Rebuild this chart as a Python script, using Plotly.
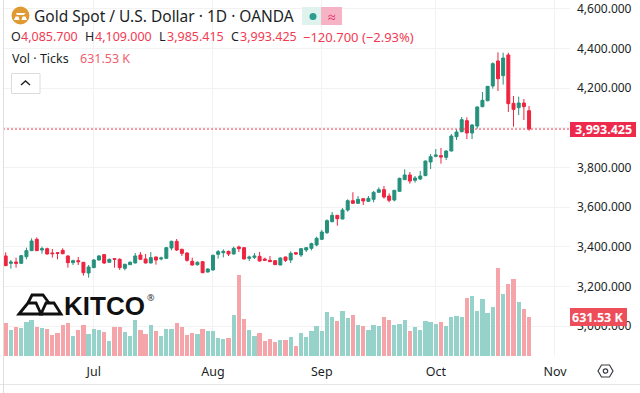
import plotly.graph_objects as go

# Session number 1 = first trading day shown (early June); tick months from the time axis.
opens = [3353.9,3316.9,3323.6,3316.9,3350.5,3380.7,3437.8,3384.0,3390.8,3369.0,3370.7,3382.4,3353.9,3320.3,3330.4,3322.0,3268.2,3295.1,3333.7,3360.6,
3322.0,3340.4,3337.1,3291.8,3310.2,3318.6,3358.9,3338.8,3318.6,3348.8,3338.8,3342.1,3394.2,3427.7,3387.4,3369.0,3327.0,3310.2,3325.3,3273.3,3283.4,3362.3,
3370.6,3377.3,3363.9,3399.2,3395.8,3342.1,3347.1,3352.2,3338.7,3332.0,3330.3,3308.5,3348.8,3333.7,3370.6,3358.9,3384.1,3392.5,3409.3,3437.8,3471.4,
3526.6,3558.8,3540.2,3585.5,3632.4,3619.1,3642.6,3629.2,3639.2,3674.5,3687.9,3656.0,3635.9,3679.5,3738.3,3761.8,3735.0,3741.7,3758.4,
3827.3,3855.8,3859.2,3850.8,3882.7,3954.9,3980.1,4035.5,3973.4,4008.6,4106.0,4136.2,4210.1,4336.0,4262.1,4366.2,4122.8,4101.0,4124.5,4085.7]
highs = [3372.3,3333.7,3345.5,3358.9,3395.8,3442.9,3447.9,3400.9,3395.8,3389.1,3372.3,3392.5,3357.2,3335.4,3348.8,3323.6,3308.5,3337.1,3358.9,3364.0,
3340.4,3342.0,3342.1,3315.2,3327.0,3369.0,3374.0,3364.0,3374.0,3350.5,3350.5,3399.2,3431.1,3439.5,3390.8,3372.3,3345.5,3327.0,3328.7,3291.8,3360.6,3384.1,
3387.4,3380.7,3400.9,3405.9,3397.5,3355.5,3369.0,3374.0,3345.4,3353.8,3333.7,3347.1,3350.5,3377.3,3374.0,3392.5,3397.5,3421.0,3451.2,3484.8,3538.5,
3575.5,3560.3,3595.6,3639.4,3674.7,3656.0,3644.3,3656.0,3681.2,3699.7,3706.4,3669.5,3686.2,3748.4,3790.3,3776.9,3756.8,3782.0,3834.0,
3867.6,3892.8,3897.8,3886.0,3968.3,3991.8,4053.9,4052.3,4018.7,4107.7,4179.9,4210.1,4329.3,4379.7,4378.0,4378.0,4159.7,4156.4,4144.6,4109.0]
lows = [3303.0,3290.1,3295.1,3315.2,3337.1,3379.0,3379.0,3365.6,3360.6,3345.5,3337.1,3362.3,3295.1,3308.5,3308.5,3254.8,3244.7,3293.4,3330.4,3313.6,
3320.3,3295.1,3283.4,3281.7,3308.5,3316.9,3333.7,3316.9,3316.9,3310.2,3332.0,3338.8,3382.4,3379.0,3353.9,3325.3,3305.2,3305.2,3266.6,3269.9,3280.0,3340.4,
3347.1,3353.8,3362.2,3374.0,3337.0,3328.7,3338.7,3325.3,3328.7,3323.6,3308.5,3307.0,3323.6,3318.6,3358.9,3348.8,3374.0,3382.4,3402.5,3434.4,3464.6,
3523.6,3506.5,3538.7,3577.0,3615.8,3617.4,3610.7,3627.5,3624.1,3672.8,3642.6,3624.1,3629.2,3677.9,3736.6,3718.1,3723.2,3736.6,3756.8,
3792.0,3850.8,3818.9,3837.4,3881.0,3938.1,3976.7,3943.1,3943.1,3995.2,4102.6,4132.9,4196.7,4184.9,4216.8,4079.1,4005.3,4064.0,4038.8,3985.415]
closes = [3305.2,3323.6,3316.9,3355.5,3380.7,3429.4,3380.7,3390.8,3364.0,3365.6,3367.3,3365.6,3320.3,3330.4,3325.3,3269.9,3298.5,3333.7,3353.9,3318.6,
3337.1,3337.1,3295.1,3311.9,3322.0,3353.9,3337.1,3318.6,3345.5,3333.7,3343.8,3395.8,3427.7,3384.0,3367.3,3332.0,3308.5,3322.0,3269.9,3288.4,3357.2,3375.7,
3377.3,3363.9,3392.5,3390.8,3338.7,3348.8,3353.8,3328.7,3332.0,3325.3,3310.2,3343.8,3332.0,3367.3,3363.9,3390.8,3395.8,3416.0,3442.8,3474.7,3531.8,
3558.8,3541.7,3585.5,3632.4,3619.3,3639.2,3630.8,3644.3,3674.5,3687.9,3651.0,3634.2,3684.6,3745.0,3761.8,3731.6,3746.7,3756.8,3832.3,
3854.0,3862.6,3852.5,3882.7,3958.2,3978.4,4040.5,3973.4,4013.7,4104.3,4137.9,4208.4,4322.6,4247.0,4351.1,4121.1,4092.6,4124.5,4106.0,3993.425]
volumes_k = [530,412,460,455,546,578,460,455,428,337,369,498,530,321,412,498,353,428,412,385,235,460,460,385,321,578,412,353,498,396,321,439,439,530,460,337,369,353,428,396,
396,289,273,294,658,1300,589,412,321,369,235,278,219,262,262,305,161,369,305,396,482,396,706,621,562,722,605,663,498,482,412,498,482,621,578,498,514,573,396,466,412,
562,546,514,546,482,631,648,621,926,958,722,915,690,781,1413,990,1151,1236,867,749,631.53]
sessions = list(range(1, len(closes) + 1))

price_ticks = [3000, 3200, 3400, 3600, 3800, 4000, 4200, 4400, 4600]
# 4,000.000 sits under the last-price tag in the reference, so its label stays empty.
price_labels = ["3,000.000", "3,200.000", "3,400.000", "3,600.000", "3,800.000", "", "4,200.000", "4,400.000", "4,600.000"]
month_ticks = [18, 41, 62, 84, 107]
month_labels = ["Jul", "Aug", "Sep", "Oct", "Nov"]

UP, DOWN = "#25917c", "#ee2440"
UP_VOL, DOWN_VOL = "#95d3ca", "#f5a5a9"
INK = "#1c1f26"
RED_TXT = "#f23a52"
FONT = "Noto Sans"

W, H = 640, 393
L, R, T, B = 3, 570, 0, 356
def fx(px): return (px - L) / (R - L)
def fy(py): return 1 - (py - T) / (B - T)
def path(points, close=True):
    s = "M " + " L ".join(f"{fx(x):.5f},{fy(y):.5f}" for x, y in points)
    return s + (" Z" if close else "")

def shape_path(points, line=None, width=1, fill=None, close=True):
    return dict(type="path", xref="paper", yref="paper", path=path(points, close),
                line=dict(color=line or "rgba(0,0,0,0)", width=width if line else 0),
                fillcolor=fill or "rgba(0,0,0,0)", layer="above")
def rect(x0, y0, x1, y1, fill=None, line=None, width=1):
    return dict(type="rect", xref="paper", yref="paper", x0=fx(x0), x1=fx(x1), y0=fy(y0), y1=fy(y1),
                fillcolor=fill or "rgba(0,0,0,0)", line=dict(color=line or "rgba(0,0,0,0)", width=width if line else 0), layer="above")
def circle(cx, cy, r, fill=None, line=None, width=1):
    return dict(type="circle", xref="paper", yref="paper", x0=fx(cx-r), x1=fx(cx+r), y0=fy(cy-r), y1=fy(cy+r),
                fillcolor=fill or "rgba(0,0,0,0)", line=dict(color=line or "rgba(0,0,0,0)", width=width if line else 0), layer="above")
def text(x, y, s, color=INK, size=13, anchor="left", family=FONT, weight=None):
    t = f"<b>{s}</b>" if weight else s
    return dict(xref="paper", yref="paper", x=fx(x), y=fy(y), text=t, showarrow=False, xanchor=anchor, yanchor="middle",
                font=dict(color=color, size=size, family=family), borderpad=0, borderwidth=0)

fig = go.Figure()
fig.add_trace(go.Bar(x=sessions, y=volumes_k, yaxis="y2", width=0.82,
                     marker=dict(color=[UP_VOL if c >= o else DOWN_VOL for o, c in zip(opens, closes)], line=dict(width=0)),
                     hoverinfo="skip", showlegend=False))
fig.add_trace(go.Candlestick(x=sessions, open=opens, high=highs, low=lows, close=closes, whiskerwidth=0,
                             increasing=dict(line=dict(color=UP, width=1), fillcolor=UP),
                             decreasing=dict(line=dict(color=DOWN, width=1), fillcolor=DOWN),
                             hoverinfo="skip", showlegend=False))

shapes = [
    dict(type="line", xref="paper", yref="y", x0=0, x1=1, y0=closes[-1], y1=closes[-1], line=dict(color="#f23a52", width=1, dash="2px,2px"), layer="above"),
    rect(0, 384, 640, 385, fill="#e6e6e6"),
    rect(3, 0, 4, 393, fill="#dedede"),
    # symbol icon
    circle(20.5, 15.5, 9, fill="#e09a33"),
    shape_path([(17, 15), (24, 15), (25.5, 13), (16, 13)], fill="#ffffff"),
    shape_path([(14, 20), (19.5, 20), (18.5, 16.5), (15.5, 16.5)], fill="#ffffff"),
    shape_path([(21.5, 20), (27, 20), (25.5, 16.5), (22.5, 16.5)], fill="#ffffff"),
    # status pills
    rect(302, 7, 322, 25, fill="#e0f2ee"),
    circle(313, 16.5, 3.5, fill="#2a9d8f"),
    rect(321, 7, 342, 25, fill="#f7b3c6"),
    # collapse button
    dict(type="rect", xref="paper", yref="paper", x0=fx(11.5), x1=fx(40), y0=fy(73.5), y1=fy(93.5), fillcolor="#ffffff",
         line=dict(color="#dcdcdc", width=1), layer="above"),
    shape_path([(21, 85), (25.5, 81), (30, 85)], line="#222222", width=1.4, close=False),
    # KITCO mark
    shape_path([(19, 314), (28, 303), (36, 303), (41, 314)], line="#111111", width=2.8),
    shape_path([(41, 314), (46, 303), (54, 303), (61, 314)], line="#111111", width=2.8),
    shape_path([(28, 303), (32, 295), (43, 295), (49, 303)], line="#111111", width=2.8, close=False),
    # price and volume tags
    rect(570, 122, 636, 137, fill="#ee2a4c"),
    rect(570, 308, 627, 326, fill="#ee4d5a"),
    # settings icon
    shape_path([(598, 371), (601.5, 365), (609.5, 365), (613, 371), (609.5, 377), (601.5, 377)], line="#3a3d45", width=1.2),
    circle(605.5, 371, 2.2, line="#3a3d45", width=1.2),
]

annotations = [
    text(34, 16, "Gold Spot / U.S. Dollar · 1D · OANDA", size=15.5),
    text(331.5, 16, "≈", color="#e0245e", size=14, anchor="center"),
    text(11, 37, "O", size=12.5), text(21, 37, "4,085.700", color=RED_TXT, size=12.5),
    text(85, 37, "H", size=12.5), text(95, 37, "4,109.000", color=RED_TXT, size=12.5),
    text(159, 37, "L", size=12.5), text(167, 37, "3,985.415", color=RED_TXT, size=12.5),
    text(231, 37, "C", size=12.5), text(240, 37, "3,993.425", color=RED_TXT, size=12.5),
    text(303, 37, "−120.700 (−2.93%)", color=RED_TXT, size=13),
    text(12, 58, "Vol · Ticks", size=12.5),
    text(80, 58, "631.53 K", color="#ef5f6e", size=12.5),
    text(64, 305.5, "KITCO", color="#111111", size=26, family="Liberation Sans", weight=True),
    text(147, 297, "®", color="#333333", size=9),
    text(603, 129.5, "3,993.425", color="#ffffff", size=12.5, anchor="center", weight=True),
    text(598, 317, "631.53 K", color="#ffffff", size=12.5, anchor="center", weight=True),
]

fig.update_layout(
    width=W, height=H, margin=dict(l=L, r=W - R, t=T, b=H - B),
    paper_bgcolor="#ffffff", plot_bgcolor="#ffffff", showlegend=False, bargap=0,
    boxgap=0.18,
    xaxis=dict(range=[0.48, 109.9], tickvals=month_ticks, ticktext=month_labels, showgrid=True, gridcolor="#f2f2f2", gridwidth=1,
               zeroline=False, showline=False, ticks="", rangeslider=dict(visible=False),
               tickfont=dict(family=FONT, size=12.5, color=INK), ticklabelstandoff=6),
    yaxis=dict(range=[2850.1, 4643.3], side="right", tickvals=price_ticks, ticktext=price_labels, showgrid=True, gridcolor="#f2f2f2",
               zeroline=False, showline=False, ticks="", tickfont=dict(family=FONT, size=12, color=INK), ticklabelstandoff=6,
               ticklabeloverflow="allow"),
    yaxis2=dict(range=[0, 5716], overlaying="y", side="left", visible=False),
    shapes=shapes, annotations=annotations,
)

fig.write_html("out.html", config=dict(displayModeBar=False),
               post_script="document.body.style.margin='0';document.body.style.overflow='hidden';")
